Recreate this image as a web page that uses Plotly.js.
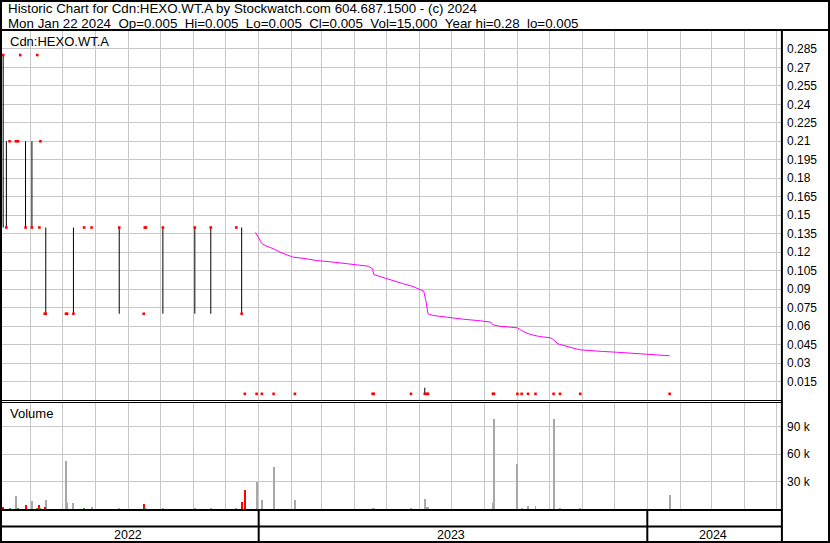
<!DOCTYPE html>
<html><head><meta charset="utf-8">
<script src="https://cdn.plot.ly/plotly-3.0.1.min.js"></script>
<style>html,body{margin:0;padding:0;background:#fff;overflow:hidden}#chart{width:830px;height:543px}</style>
</head><body><div id="chart"></div>
<script>
// ---------- texts ----------
const TITLE_LINE_1 = "Historic Chart for Cdn:HEXO.WT.A by Stockwatch.com 604.687.1500 - (c) 2024";
const TITLE_LINE_2 = "Mon Jan 22 2024\u00a0\u00a0Op=0.005\u00a0\u00a0Hi=0.005\u00a0\u00a0Lo=0.005\u00a0\u00a0Cl=0.005\u00a0\u00a0Vol=15,000\u00a0\u00a0Year hi=0.28\u00a0\u00a0lo=0.005";
const SYMBOL_LABEL = "Cdn:HEXO.WT.A";
const VOLUME_LABEL = "Volume";
const YEAR_LABELS = ["2022", "2023", "2024"];
const YEAR_STARTS = ["2023-01-01", "2024-01-01"];

// ---------- daily prices ----------
const PRICE_DATES = ["2022-05-06","2022-05-09","2022-05-12","2022-05-18","2022-05-20","2022-05-22","2022-05-27","2022-06-02","2022-06-07","2022-06-09","2022-06-10","2022-06-14","2022-06-15","2022-07-04","2022-07-05","2022-07-11","2022-07-21","2022-07-28","2022-08-23","2022-09-15","2022-09-16","2022-09-17","2022-10-03","2022-11-02","2022-11-17","2022-12-11","2022-12-16","2022-12-19","2022-12-30","2023-01-04","2023-01-15","2023-02-04","2023-04-18","2023-04-19","2023-05-24","2023-06-06","2023-06-08","2023-06-09","2023-08-09","2023-08-10","2023-09-01","2023-09-05","2023-09-11","2023-09-18","2023-10-05","2023-10-11","2023-10-30","2024-01-22"];
const PRICE_HIGH  = [0.28,0.21,0.21,0.21,0.21,0.28,0.21,0.21,0.28,0.14,0.21,0.07,0.14,0.07,0.07,0.14,0.14,0.14,0.14,0.07,0.14,0.14,0.14,0.14,0.14,0.14,0.14,0.005,0.005,0.005,0.005,0.005,0.005,0.005,0.005,0.01,0.005,0.005,0.005,0.005,0.005,0.005,0.005,0.005,0.005,0.005,0.005,0.005];
const PRICE_LOW   = [0.14,0.14,0.21,0.21,0.21,0.28,0.14,0.14,0.28,0.14,0.21,0.07,0.07,0.07,0.07,0.07,0.14,0.14,0.07,0.07,0.14,0.14,0.07,0.07,0.07,0.14,0.07,0.005,0.005,0.005,0.005,0.005,0.005,0.005,0.005,0.005,0.005,0.005,0.005,0.005,0.005,0.005,0.005,0.005,0.005,0.005,0.005,0.005];
const PRICE_CLOSE = [0.28,0.14,0.21,0.21,0.21,0.28,0.14,0.14,0.28,0.14,0.21,0.07,0.07,0.07,0.07,0.07,0.14,0.14,0.14,0.07,0.14,0.14,0.14,0.14,0.14,0.14,0.07,0.005,0.005,0.005,0.005,0.005,0.005,0.005,0.005,0.005,0.005,0.005,0.005,0.005,0.005,0.005,0.005,0.005,0.005,0.005,0.005,0.005];

// ---------- moving average ----------
const MA_DATES = ["2022-12-29","2023-01-01","2023-01-04","2023-01-08","2023-01-15","2023-01-21","2023-01-30","2023-02-02","2023-02-15","2023-02-24","2023-03-09","2023-03-21","2023-04-06","2023-04-14","2023-04-18","2023-04-19","2023-04-25","2023-05-04","2023-05-17","2023-05-26","2023-06-01","2023-06-05","2023-06-07","2023-06-09","2023-06-14","2023-06-29","2023-07-12","2023-07-28","2023-08-05","2023-08-07","2023-08-09","2023-08-15","2023-08-26","2023-09-01","2023-09-05","2023-09-10","2023-09-16","2023-09-22","2023-10-02","2023-10-05","2023-10-09","2023-10-16","2023-10-24","2023-10-30","2023-11-08","2023-11-20","2023-12-03","2023-12-18","2023-12-31","2024-01-15","2024-01-22"];
const MA_VALUES = [0.136,0.132,0.127,0.125,0.1227,0.120,0.1173,0.116,0.1146,0.1132,0.1122,0.1108,0.1094,0.1086,0.1065,0.1019,0.1002,0.0976,0.0943,0.0921,0.0897,0.0883,0.0808,0.0700,0.0686,0.0667,0.0656,0.0643,0.0632,0.0632,0.0610,0.0599,0.0591,0.0585,0.0564,0.0542,0.0526,0.0515,0.0505,0.0489,0.0456,0.0437,0.0420,0.0407,0.0399,0.0394,0.0388,0.0380,0.0372,0.0364,0.0359];

// ---------- volume ----------
const VOL_GRAY_DATES = ["2022-05-18","2022-06-02","2022-06-15","2022-07-04","2022-07-05","2022-07-11","2022-07-28","2022-08-23","2022-10-03","2022-11-02","2022-11-17","2022-12-11","2022-12-30","2023-01-04","2023-01-15","2023-02-04","2023-04-18","2023-04-19","2023-05-24","2023-06-06","2023-06-08","2023-06-09","2023-08-09","2023-08-10","2023-09-01","2023-09-05","2023-09-11","2023-09-18","2023-10-05","2023-10-11","2023-10-30","2024-01-22"];
const VOL_GRAY = [14200,8700,9800,52500,6600,6600,2200,1100,1100,1100,1100,1100,29500,9800,45900,9800,1100,1100,1100,11000,2200,2200,6600,98400,49200,1100,3300,3300,98400,1100,1100,15000];
const VOL_RED_DATES = ["2022-05-06","2022-05-27","2022-06-09","2022-06-14","2022-09-15","2022-12-16","2022-12-19"];
const VOL_RED = [2500,4400,4400,2200,5500,7700,20800];
const VOL_GREEN_DATES = ["2022-05-12","2022-05-20","2022-06-07","2022-06-10","2022-07-21","2022-09-16"];
const VOL_GREEN = [1100,1100,1100,1100,1100,1100];

// ---------- ticks ----------
const PRICE_TICK_LABELS = ["0.015","0.03","0.045","0.06","0.075","0.09","0.105","0.12","0.135","0.15","0.165","0.18","0.195","0.21","0.225","0.24","0.255","0.27","0.285"];
const PRICE_TICKS = PRICE_TICK_LABELS.map(Number);
const VOL_TICKS = [30000, 60000, 90000];
const VOL_TICK_LABELS = ["30 k", "60 k", "90 k"];

// ---------- layout geometry ----------
const W = 830, H = 543;
const M = {l: 2, r: 49, t: 31, b: 34};
const PW = W - M.l - M.r, PH = H - M.t - M.b;
const px = x => (x - M.l) / PW;
const py = y => (H - M.b - y) / PH;
const FONT = "Liberation Sans, Arial, sans-serif";

// hi-lo range segments built from the price arrays
const rangeX = [], rangeY = [];
PRICE_DATES.forEach((d, i) => {
  if (PRICE_HIGH[i] > PRICE_LOW[i]) {
    rangeX.push(d, d, null);
    rangeY.push(PRICE_LOW[i], PRICE_HIGH[i], null);
  }
});

const BAR_W = 1.8 * 86400000;
const traces = [
  {type: "scatter", mode: "lines", x: rangeX, y: rangeY, xaxis: "x", yaxis: "y",
   line: {color: "#000", width: 1}, connectgaps: false, hoverinfo: "skip"},
  {type: "scatter", mode: "markers", x: PRICE_DATES, y: PRICE_CLOSE, xaxis: "x", yaxis: "y",
   marker: {symbol: "square", size: 2.6, color: "#ff0000", line: {width: 0}}},
  {type: "scatter", mode: "lines", x: MA_DATES, y: MA_VALUES, xaxis: "x", yaxis: "y",
   line: {color: "#ff00ff", width: 1}},
  {type: "bar", x: VOL_GRAY_DATES, y: VOL_GRAY, xaxis: "x", yaxis: "y2", width: BAR_W,
   marker: {color: "#a8a8a8", line: {width: 0}}},
  {type: "bar", x: VOL_RED_DATES, y: VOL_RED, xaxis: "x", yaxis: "y2", width: BAR_W,
   marker: {color: "#ff0000", line: {width: 0}}},
  {type: "bar", x: VOL_GREEN_DATES, y: VOL_GREEN, xaxis: "x", yaxis: "y2", width: BAR_W,
   marker: {color: "#3ca03c", line: {width: 0}}}
];

const line = (x0, y0, x1, y1, w) => ({type: "line", xref: "paper", yref: "paper",
  x0: px(x0), y0: py(y0), x1: px(x1), y1: py(y1), line: {color: "#000", width: w}});

const shapes = [
  {type: "rect", xref: "paper", yref: "paper", x0: px(1), x1: px(829), y0: py(1), y1: py(542),
   line: {color: "#000", width: 2}, fillcolor: "rgba(0,0,0,0)"},
  line(0, 30, 830, 30, 2),
  line(781.9, 30, 781.9, 542, 2),
  line(0, 400.5, 781, 400.5, 1),
  line(0, 402.5, 781, 402.5, 1),
  line(0, 510, 781, 510, 2),
  line(0, 526.5, 781, 526.5, 2)
].concat(YEAR_STARTS.map(d => ({type: "line", xref: "x", yref: "paper",
  x0: d, x1: d, y0: py(510), y1: py(542), line: {color: "#000", width: 2}})));

const ann = (text, x, y, xanchor, size) => ({text, x: px(x), y: py(y), xref: "paper", yref: "paper",
  xanchor, yanchor: "middle", showarrow: false, font: {family: FONT, size, color: "#000"}});

const annotations = [
  ann(TITLE_LINE_1, 5.5, 8, "left", 13.33),
  ann(TITLE_LINE_2, 5.5, 23.5, "left", 13.33),
  ann(SYMBOL_LABEL, 8, 41.5, "left", 13),
  ann(VOLUME_LABEL, 8, 413, "left", 13),
  ann(YEAR_LABELS[0], 128, 534.5, "center", 12.5),
  ann(YEAR_LABELS[1], 451, 534.5, "center", 12.5),
  ann(YEAR_LABELS[2], 713, 534.5, "center", 12.5)
];

const GRID = "#c8c8c8";
const layout = {
  width: W, height: H, margin: M,
  paper_bgcolor: "#fff", plot_bgcolor: "#fff", showlegend: false,
  bargap: 0,
  xaxis: {type: "date", range: ["2022-05-04 21:22", "2024-05-05 14:00"], anchor: "y2",
    showticklabels: false, ticks: "", showgrid: true, gridcolor: GRID, gridwidth: 1,
    tick0: "2022-06-01", dtick: "M1", zeroline: false, showline: false},
  yaxis: {domain: [1 - (400 - M.t) / PH, 1], range: [0, 0.2995], side: "right", anchor: "x",
    tickmode: "array", tickvals: PRICE_TICKS, ticktext: PRICE_TICK_LABELS, ticks: "",
    showgrid: true, gridcolor: GRID, gridwidth: 1, zeroline: false, showline: false,
    tickfont: {family: FONT, size: 12, color: "#000"}, ticklabelstandoff: 5},
  yaxis2: {domain: [0, (H - M.b - 402) / PH], range: [0, 117000], side: "right", anchor: "x",
    tickmode: "array", tickvals: VOL_TICKS, ticktext: VOL_TICK_LABELS, ticks: "",
    showgrid: true, gridcolor: GRID, gridwidth: 1, zeroline: false, showline: false,
    tickfont: {family: FONT, size: 12, color: "#000"}, ticklabelstandoff: 5},
  shapes, annotations
};

Plotly.newPlot("chart", traces, layout, {staticPlot: true, displayModeBar: false});
</script></body></html>
